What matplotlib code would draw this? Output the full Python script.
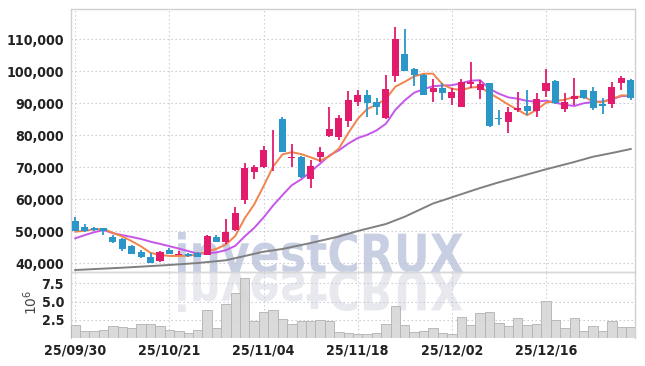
import matplotlib
matplotlib.use('Agg')
import matplotlib.pyplot as plt
import numpy as np
import pandas as pd
from matplotlib.textpath import TextPath
from matplotlib.patches import PathPatch
from matplotlib.font_manager import FontProperties
from matplotlib.transforms import Affine2D

# ---------------------------------------------------------------
# Données (60 séances, cours en won)
# ---------------------------------------------------------------
opens = [53300, 51250, 50900, 50900, 48310, 47590, 45500, 43620, 41970, 40810,
         44250, 42500, 42900, 43130, 42690, 48310, 46660, 50410, 59780, 68620,
         70190, 79940, 85090, 72810, 73310, 66250, 73310, 79870, 79560, 84560,
         90500, 92590, 90500, 85310, 98530, 105560, 100620, 98840, 93620, 94870,
         91750, 88940, 95940, 94160, 96250, 85160, 84060, 87910, 89250, 87590,
         93940, 97060, 88120, 91340, 94160, 93840, 89870, 89690, 96440, 97280]

closes = [50200, 50200, 50300, 50200, 46750, 44470, 42900, 41970, 40190, 43530,
          42900, 42900, 42280, 42060, 48530, 46750, 49780, 55620, 69690, 70000,
          75410, 80090, 74880, 73310, 66870, 70500, 74690, 81970, 85310, 91030,
          92590, 90190, 88750, 94470, 110000, 100190, 98750, 92750, 94690, 93120,
          93440, 96560, 96750, 95940, 83000, 85030, 87190, 88620, 87590, 91340,
          96250, 90000, 90310, 92280, 91560, 88620, 89250, 95090, 97810, 91560]

highs = [54500, 52190, 51200, 51100, 48700, 47900, 45700, 44160, 43120, 43690,
         44780, 43940, 43220, 43600, 48690, 48840, 53750, 57500, 71250, 70720,
         76750, 81660, 85620, 77190, 73530, 72280, 76440, 88940, 86340, 93840,
         94160, 94160, 91660, 98840, 113750, 113120, 101030, 99100, 97590, 96340,
         94690, 97590, 103000, 97280, 96250, 87910, 88940, 93530, 94160, 93120,
         100720, 97280, 93120, 97810, 94160, 95190, 91750, 96560, 98620, 97600]

lows = [50000, 49690, 50000, 48840, 46340, 43940, 42750, 41560, 40090, 40560,
        42750, 42440, 42120, 41950, 42590, 46600, 46030, 50090, 58530, 66250,
        69780, 68910, 74780, 70190, 66650, 63620, 71750, 79560, 78530, 82690,
        89160, 85620, 86340, 85100, 96750, 100000, 95310, 92600, 90500, 91030,
        89470, 88900, 94690, 91340, 82690, 83220, 80810, 87380, 86340, 85810,
        92060, 89800, 87190, 89470, 91300, 87910, 86560, 88620, 94160, 91030]

# volumes en millions d'actions
volumes = [1.80, 1.00, 1.00, 1.13, 1.63, 1.54, 1.36, 1.90, 1.90, 1.68,
           1.09, 0.95, 0.68, 1.13, 3.80, 1.40, 4.64, 6.14, 8.18, 2.36,
           3.55, 3.82, 2.59, 1.90, 2.36, 2.36, 2.50, 2.36, 0.82, 0.68,
           0.55, 0.55, 0.68, 1.90, 4.36, 1.77, 0.82, 0.95, 1.36, 0.68,
           0.55, 2.86, 1.77, 3.41, 3.55, 2.05, 1.64, 2.73, 1.77, 1.90,
           5.09, 2.50, 1.40, 2.73, 0.95, 1.64, 0.95, 2.32, 1.50, 1.50]

# début des moyennes mobiles (fenêtre incomplète)
ma5_head = [49870, 50190, 50620, 50720]
ma10_head = [47800, 48800, 49700, 50400, 49400, 48800, 48220, 47590, 46750]

# moyenne longue (ligne grise)
ma_long_idx = [0, 5, 10, 13, 16, 18, 20, 22, 25, 28, 30, 33, 35, 38, 40,
               43, 45, 48, 50, 53, 55, 57, 59]
ma_long = [37900, 38620, 39470, 40090, 40940, 42280, 43620, 44470, 46340,
           48370, 50090, 52280, 54560, 58690, 60620, 63530, 65310, 67750,
           69380, 71660, 73310, 74470, 75720]

tick_idx = [0, 10, 20, 30, 40, 50]
tick_labels = ['25/09/30', '25/10/21', '25/11/04', '25/11/18', '25/12/02', '25/12/16']
price_ticks = [40000, 50000, 60000, 70000, 80000, 90000, 100000, 110000]
vol_ticks = [2.5, 5.0, 7.5]

# ---------------------------------------------------------------
# Couleurs
# ---------------------------------------------------------------
c_up = '#e31b6d'
c_down = '#2b96c8'
c_ma5 = '#f0844c'
c_ma10 = '#c656ea'
c_long = '#808080'
c_grid = '#c4c6d0'
c_spine = '#d0d0d0'

tick_font = FontProperties(family='DejaVu Sans', weight='bold',
                           stretch='condensed', size=10.2)

# ---------------------------------------------------------------
# Figure
# ---------------------------------------------------------------
W, H = 645, 366
fig = plt.figure(figsize=(W / 100, H / 100), dpi=100)

left, right = 71, 635
top_p, bot_p, bot_v = 9, 272, 337.5
ax = fig.add_axes([left / W, (H - bot_p) / H, (right - left) / W, (bot_p - top_p) / H])
axv = fig.add_axes([left / W, (H - bot_v) / H, (right - left) / W, (bot_v - bot_p) / H], sharex=ax)

x = np.arange(len(closes))
o = np.array(opens)
c = np.array(closes)
colors = [c_up if cc >= oo else c_down for oo, cc in zip(o, c)]

# moyennes mobiles
s = pd.Series(closes, dtype=float)
ma5 = s.rolling(5).mean().values
ma10 = s.rolling(10).mean().values
ma5[:len(ma5_head)] = ma5_head
ma10[:len(ma10_head)] = ma10_head

ax.plot(ma_long_idx, ma_long, color=c_long, lw=1.4, zorder=2)
ax.plot(x, ma10, color=c_ma10, lw=1.4, zorder=2)
ax.plot(x, ma5, color=c_ma5, lw=1.4, zorder=2)

# chandeliers
ax.vlines(x, lows, highs, colors=colors, lw=1.3, zorder=3)
body_bottom = np.minimum(o, c)
body_h = np.maximum(np.abs(c - o), 250)
ax.bar(x, body_h, width=0.75, bottom=body_bottom, color=colors, zorder=4, linewidth=0)

ax.set_xlim(-0.45, 59.45)
ax.set_ylim(37280, 119470)
ax.set_yticks(price_ticks)
ax.set_yticklabels([f'{v:,}' for v in price_ticks], fontproperties=tick_font, color='#222222')
ax.set_xticks(tick_idx)
ax.tick_params(axis='x', labelbottom=False, length=0)
ax.tick_params(axis='y', length=0, pad=5)

# volumes
axv.bar(x, volumes, width=1.0, color='#d6d6d6', edgecolor='#b4b4b4', linewidth=0.7,
        alpha=0.9, zorder=3)
axv.set_ylim(0.1, 9.05)
axv.set_yticks(vol_ticks)
axv.set_yticklabels([f'{v:.1f}' for v in vol_ticks], fontproperties=tick_font, color='#222222')
axv.set_xticks(tick_idx)
axv.set_xticklabels(tick_labels, fontproperties=tick_font, color='#222222')
axv.tick_params(axis='both', length=0)
axv.tick_params(axis='y', pad=5)
axv.tick_params(axis='x', pad=4)

for a in (ax, axv):
    a.set_facecolor('none')
    a.grid(True, axis='y', color=c_grid, ls=(0, (1.2, 2.4)), lw=0.8, zorder=0)
    a.grid(True, axis='x', color='#c3c8dc', ls=(0, (1.2, 2.4)), lw=0.8, zorder=0)
    for sp in a.spines.values():
        sp.set_color(c_spine)
        sp.set_linewidth(1.0)
axv.spines['top'].set_color('#d8d8d8')
axv.spines['bottom'].set_visible(False)

fig.text(31 / W, 1 - 302 / H, r'$10^6$', rotation=90, ha='center', va='center',
         fontsize=10, color='#444444')

# filigrane "investCRUX" et son reflet
tp = TextPath((0, 0), 'investCRUX', size=100,
              prop=FontProperties(family='DejaVu Sans', weight='bold'))
bb = tp.get_extents()
sx = 285 / bb.width
sy = 40 / bb.y1
to_fig = Affine2D().scale(1 / W, 1 / H) + fig.transFigure
base_y = H - 272
main_tr = Affine2D().translate(-bb.x0, 0).scale(sx, sy).translate(178, base_y) + to_fig
refl_tr = Affine2D().translate(-bb.x0, 0).scale(sx, -sy).translate(178, base_y) + to_fig
fig.add_artist(PathPatch(tp, transform=main_tr, facecolor='#c8cfe3', edgecolor='none', zorder=-1))
fig.add_artist(PathPatch(tp, transform=refl_tr, facecolor='#e8e8ef', edgecolor='none', zorder=-1))

fig.savefig('out.png', dpi=100, facecolor='white')
